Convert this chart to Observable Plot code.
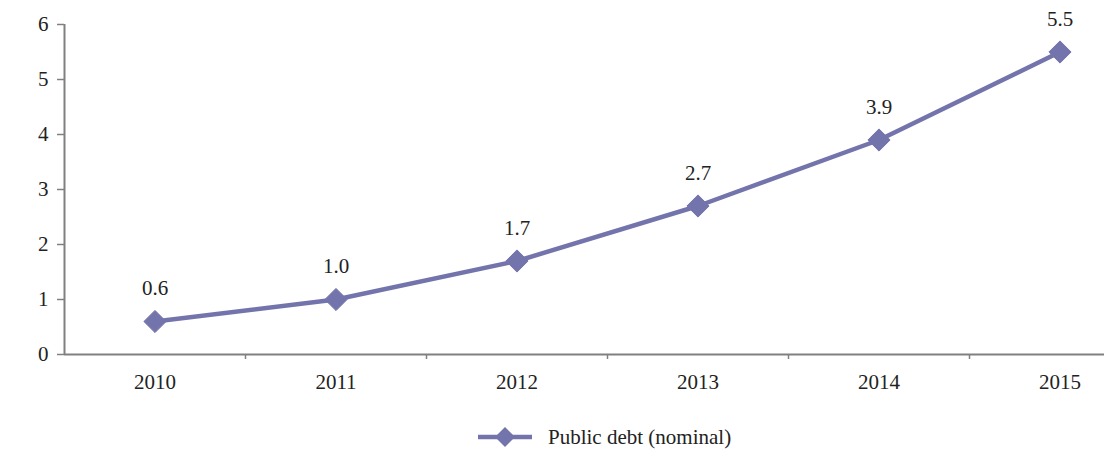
<!DOCTYPE html>
<html>
<head>
<meta charset="utf-8">
<script src="https://cdn.jsdelivr.net/npm/d3@7"></script>
<script src="https://cdn.jsdelivr.net/npm/@observablehq/plot@0.6"></script>
<style>
  html, body { margin: 0; padding: 0; background: #fff; }
  #chart { width: 1104px; overflow: hidden; }
  #chart svg, #chart svg text { font-family: "Liberation Serif", "Times New Roman", serif !important; }
  #legend { width: 1104px; height: 50px; position: relative; font-family: "Liberation Serif", "Times New Roman", serif; font-size: 21px; color: #222; }
  #legend .item { position: absolute; left: 476px; top: 26px; height: 22px; display: flex; align-items: center; }
  #legend .item span { margin-left: 14px; line-height: 22px; }
</style>
</head>
<body>
<div id="chart"></div>
<div id="legend"></div>
<script>
const years = [2010, 2011, 2012, 2013, 2014, 2015];
const debt = [0.6, 1.0, 1.7, 2.7, 3.9, 5.5];
const yTicks = [0, 1, 2, 3, 4, 5, 6];
const seriesName = "Public debt (nominal)";
const color = "#7474ad";
const axisColor = "#808080";

const data = years.map((y, i) => ({year: y, value: debt[i]}));
const edges = d3.range(years[0] - 0.5, years[years.length - 1] + 1, 1);

const chart = Plot.plot({
  width: 1104,
  height: 400,
  marginLeft: 64,
  marginRight: 0,
  marginTop: 24,
  marginBottom: 46,
  style: "font-family: 'Liberation Serif', 'Times New Roman', serif; color: #222; background: #fff;",
  x: {type: "linear", domain: [edges[0], edges[edges.length - 1]], range: [64, 1150]},
  y: {domain: [0, 6]},
  marks: [
    Plot.ruleY([0], {stroke: axisColor, strokeWidth: 2}),
    Plot.ruleX([edges[0]], {stroke: axisColor, strokeWidth: 2}),
    Plot.axisY({ticks: yTicks, tickSize: 7, tickPadding: 9, tickFormat: d3.format("d"), stroke: axisColor, strokeWidth: 1.5, fontSize: 21, label: null}),
    Plot.axisX({ticks: edges.slice(1), tickSize: 5, tickFormat: () => "", stroke: axisColor, strokeWidth: 1.5, label: null}),
    Plot.axisX({ticks: years, tickSize: 0, tickPadding: 20, tickFormat: d => String(d), fontSize: 21, label: null}),
    Plot.line(data, {x: "year", y: "value", stroke: color, strokeWidth: 4.5}),
    Plot.dot(data, {x: "year", y: "value", symbol: "diamond2", r: 10, fill: color, stroke: color, strokeWidth: 1}),
    Plot.text(data, {x: "year", y: "value", text: d => d3.format(".1f")(d.value), dy: -33, fontSize: 21, fill: "#222"})
  ]
});
document.getElementById("chart").appendChild(chart);

document.getElementById("legend").innerHTML =
  `<div class="item"><svg width="58" height="22"><line x1="2" y1="11" x2="56" y2="11" stroke="${color}" stroke-width="4.5"/><path d="M29,1 L39,11 L29,21 L19,11 Z" fill="${color}"/></svg><span>${seriesName}</span></div>`;
</script>
</body>
</html>
